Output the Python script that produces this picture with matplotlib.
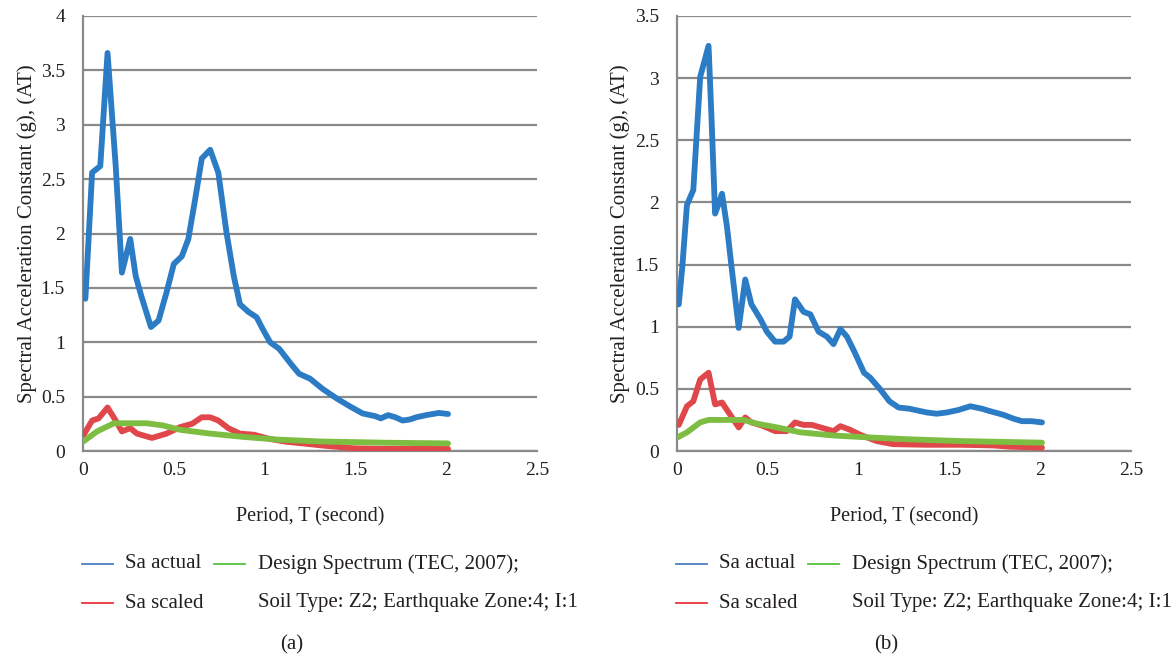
import matplotlib
matplotlib.use("Agg")
import matplotlib.pyplot as plt
from matplotlib.lines import Line2D
from matplotlib.ticker import FuncFormatter

plt.rcParams['font.family'] = ['Liberation Serif', 'DejaVu Serif']

# ---------------- data ----------------
# Panel (a)
a_actual_T = [0.013, 0.05, 0.095, 0.135, 0.18, 0.214, 0.26, 0.29, 0.32, 0.374, 0.416, 0.46, 0.50,
              0.544, 0.58, 0.617, 0.654, 0.70, 0.745, 0.79, 0.83, 0.864, 0.91, 0.956, 0.99, 1.03,
              1.08, 1.15, 1.19, 1.25, 1.32, 1.40, 1.47, 1.54, 1.61, 1.64, 1.68, 1.72, 1.76, 1.80,
              1.835, 1.89, 1.96, 2.01]
a_actual_Sa = [1.40, 2.56, 2.62, 3.66, 2.62, 1.64, 1.95, 1.61, 1.43, 1.14, 1.20, 1.46, 1.72,
               1.79, 1.95, 2.31, 2.69, 2.77, 2.56, 2.01, 1.61, 1.35, 1.28, 1.23, 1.12, 1.00,
               0.94, 0.79, 0.71, 0.665, 0.57, 0.48, 0.41, 0.345, 0.32, 0.30, 0.33, 0.31, 0.28, 0.29,
               0.31, 0.33, 0.35, 0.34]
a_scaled_T = [0.004, 0.05, 0.086, 0.135, 0.18, 0.214, 0.26, 0.297, 0.38, 0.46, 0.535, 0.60, 0.654,
              0.70, 0.745, 0.80, 0.864, 0.94, 1.03, 1.12, 1.21, 1.32, 1.49, 1.67, 2.01]
a_scaled_Sa = [0.15, 0.28, 0.30, 0.40, 0.28, 0.18, 0.21, 0.16, 0.12, 0.16, 0.22, 0.25, 0.31,
               0.31, 0.28, 0.21, 0.16, 0.15, 0.11, 0.085, 0.07, 0.05, 0.025, 0.02, 0.02]
a_design_T = [0.004, 0.077, 0.17, 0.35, 0.44, 0.535, 0.70, 0.88, 1.07, 1.30, 1.67, 2.01]
a_design_Sa = [0.09, 0.18, 0.255, 0.255, 0.235, 0.195, 0.16, 0.13, 0.105, 0.088, 0.076, 0.07]

# Panel (b)
b_actual_T = [0.01, 0.03, 0.055, 0.09, 0.128, 0.174, 0.19, 0.21, 0.23, 0.248, 0.275, 0.30, 0.34,
              0.376, 0.41, 0.46, 0.495, 0.54, 0.587, 0.62, 0.65, 0.697, 0.734, 0.78, 0.826, 0.862,
              0.90, 0.936, 0.98, 1.03, 1.064, 1.12, 1.17, 1.22, 1.28, 1.376, 1.43, 1.486, 1.55,
              1.615, 1.68, 1.725, 1.80, 1.853, 1.90, 1.954, 2.01]
b_actual_Sa = [1.18, 1.49, 1.98, 2.10, 3.01, 3.26, 2.69, 1.91, 1.99, 2.07, 1.81, 1.49, 0.99,
               1.38, 1.18, 1.06, 0.96, 0.88, 0.88, 0.92, 1.22, 1.12, 1.10, 0.96, 0.92, 0.86,
               0.98, 0.92, 0.79, 0.63, 0.59, 0.495, 0.40, 0.35, 0.34, 0.31, 0.30, 0.31, 0.33,
               0.36, 0.34, 0.32, 0.29, 0.26, 0.24, 0.24, 0.23]
b_scaled_T = [0.01, 0.055, 0.09, 0.128, 0.174, 0.21, 0.248, 0.294, 0.34, 0.376, 0.41, 0.477, 0.54,
              0.605, 0.65, 0.697, 0.743, 0.79, 0.862, 0.90, 0.954, 1.01, 1.10, 1.19, 1.376, 1.56,
              1.74, 1.83, 2.01]
b_scaled_Sa = [0.21, 0.36, 0.40, 0.575, 0.63, 0.375, 0.39, 0.29, 0.19, 0.27, 0.23, 0.20, 0.16,
               0.16, 0.23, 0.21, 0.21, 0.19, 0.16, 0.20, 0.17, 0.13, 0.08, 0.055, 0.05, 0.05,
               0.045, 0.035, 0.027]
b_design_T = [0.004, 0.055, 0.128, 0.174, 0.367, 0.44, 0.55, 0.68, 0.86, 1.046, 1.28, 1.56, 2.01]
b_design_Sa = [0.11, 0.15, 0.23, 0.25, 0.25, 0.22, 0.19, 0.15, 0.125, 0.11, 0.094, 0.08, 0.067]

x_ticks = [0, 0.5, 1, 1.5, 2, 2.5]
a_y_ticks = [0, 0.5, 1, 1.5, 2, 2.5, 3, 3.5, 4]
b_y_ticks = [0, 0.5, 1, 1.5, 2, 2.5, 3, 3.5]

series_labels = ["Sa actual", "Sa scaled"]
design_label = ["Design Spectrum (TEC, 2007);", "Soil Type: Z2; Earthquake Zone:4; I:1"]
panel_labels = ["(a)", "(b)"]
x_label = "Period, T (second)"
y_label = "Spectral Acceleration Constant (g), (AT)"

# ---------------- styling ----------------
C_BLUE = "#2b7cc4"
C_RED = "#e0474a"
C_GREEN = "#7cbd42"
L_BLUE = "#4a7fc0"
L_RED = "#e8343c"
L_GREEN = "#54c23e"
GRID = "#8a8a8a"
TXT = "#231f20"
FS_TICK = 14
FS_LAB = 15

fig = plt.figure(figsize=(11.71, 6.56), dpi=100)

panels = [
    (0.0709, a_y_ticks, a_actual_T, a_actual_Sa, a_scaled_T, a_scaled_Sa, a_design_T, a_design_Sa),
    (0.5781, b_y_ticks, b_actual_T, b_actual_Sa, b_scaled_T, b_scaled_Sa, b_design_T, b_design_Sa),
]
W = 0.3877
B = 1 - 451 / 656
H = (451 - 16) / 656

fmt = FuncFormatter(lambda v, p: "%g" % v)

for i, (left, yt, aT, aS, sT, sS, dT, dS) in enumerate(panels):
    ax = fig.add_axes([left, B, W, H])
    ax.plot(aT, aS, color=C_BLUE, lw=4.2, solid_capstyle='round', solid_joinstyle='round', zorder=3)
    ax.plot(sT, sS, color=C_RED, lw=4.2, solid_capstyle='round', solid_joinstyle='round', zorder=3)
    ax.plot(dT, dS, color=C_GREEN, lw=4.2, solid_capstyle='round', solid_joinstyle='round', zorder=4)
    ax.set_xlim(0, 2.5)
    ax.set_ylim(0, yt[-1])
    ax.set_xticks(x_ticks)
    ax.set_yticks(yt)
    ax.xaxis.set_major_formatter(fmt)
    ax.yaxis.set_major_formatter(fmt)
    ax.yaxis.grid(True, color=GRID, lw=1.6)
    ax.set_axisbelow(True)
    for s in ['top', 'right']:
        ax.spines[s].set_visible(False)
    for s in ['left', 'bottom']:
        ax.spines[s].set_color(GRID)
        ax.spines[s].set_linewidth(1.6)
    ax.tick_params(axis='x', length=0, labelsize=FS_TICK, colors=TXT, pad=8)
    ax.tick_params(axis='y', length=0, labelsize=FS_TICK, colors=TXT, pad=13)
    ax.set_xlabel(x_label, fontsize=14.5, color=TXT, labelpad=20)
    ax.set_ylabel(y_label, fontsize=FS_LAB, color=TXT, labelpad=3)

    # legend (manual, as in the figure)
    x0 = left + (82 - 83) / 1171
    y1 = 1 - 564 / 656
    y2 = 1 - 603 / 656
    fig.add_artist(Line2D([x0, x0 + 31 / 1171], [y1, y1], color=L_BLUE, lw=1.3))
    fig.add_artist(Line2D([x0, x0 + 31 / 1171], [y2, y2], color=L_RED, lw=1.3))
    fig.text(x0 + 43 / 1171, y1, series_labels[0], fontsize=FS_LAB, color=TXT, va='center')
    fig.text(x0 + 43 / 1171, y2, series_labels[1], fontsize=FS_LAB, color=TXT, va='center')
    fig.add_artist(Line2D([x0 + 132 / 1171, x0 + 163 / 1171], [y1, y1], color=L_GREEN, lw=1.3))
    fig.text(x0 + 176 / 1171, y1, design_label[0], fontsize=FS_LAB, color=TXT, va='center')
    fig.text(x0 + 176 / 1171, y2, design_label[1], fontsize=FS_LAB, color=TXT, va='center')
    fig.text(left + (292 - 83) / 1171, 1 - 645 / 656, panel_labels[i], fontsize=FS_LAB,
             color=TXT, va='center', ha='center')

fig.savefig("out.png", dpi=100)
